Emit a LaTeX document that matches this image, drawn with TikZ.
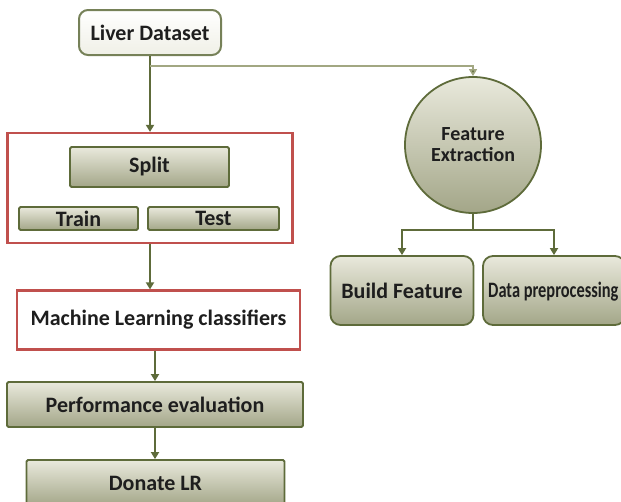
\documentclass[tikz,border=0pt]{standalone}
\usepackage{fontspec}
\setmainfont{Carlito}
\usetikzlibrary{arrows.meta}
\definecolor{olive}{HTML}{5E6B3A}
\definecolor{olivelight}{HTML}{A2A782}
\definecolor{boxtop}{HTML}{E9E9DC}
\definecolor{boxbot}{HTML}{A3A688}
\definecolor{framered}{HTML}{C0504D}
\definecolor{ink}{HTML}{1E1E1E}
\tikzset{
  lbl/.style={font=\bfseries\fontsize{22}{25}\selectfont, text=ink},
  greenbox/.style={draw=olive, line width=1.8pt, top color=boxtop, bottom color=boxbot,
    inner sep=0pt, rounded corners=1.5pt, lbl},
  roundbox/.style={greenbox, rounded corners=10pt},
  redframe/.style={draw=framered, line width=2.2pt, fill=white, inner sep=0pt},
  startbox/.style={draw=olive!85, line width=2pt, top color=white, bottom color=boxtop!70,
    rounded corners=9pt, inner sep=0pt, lbl},
  arr/.style={draw=olive, line width=1.7pt, -{Triangle[width=8pt,length=7pt]}},
  arrlight/.style={draw=olivelight, line width=1.6pt, -{Triangle[width=8pt,length=7pt,fill=olive]}},
  plain/.style={draw=olive, line width=1.7pt}
}
\begin{document}
\begin{tikzpicture}[x=1pt,y=-1pt]
\useasboundingbox (0,0) rectangle (621,501);

% left column
\node[startbox, minimum width=142pt, minimum height=45pt] (ld) at (150,32.5) {Liver Dataset};
\node[redframe, minimum width=285pt, minimum height=110pt] (rb) at (150,188) {};
\node[greenbox, minimum width=159pt, minimum height=40pt] (sp) at (149.5,167) {Split};
\node[greenbox, minimum width=119pt, minimum height=23pt] (tr) at (78.5,218.5) {Train};
\node[greenbox, minimum width=131pt, minimum height=23pt] (te) at (213.5,218.5) {Test};
\node[redframe, minimum width=283pt, minimum height=59pt, lbl] (ml) at (158.5,320)
      {Machine Learning classifiers};
\node[greenbox, minimum width=296pt, minimum height=45pt] (pe) at (155,404.5) {Performance evaluation};
\node[greenbox, minimum width=258pt, minimum height=46pt] (dl) at (155.5,483) {Donate LR};

% right column
\node[circle, draw=olive, line width=1.8pt, top color=boxtop, bottom color=boxbot,
      minimum size=136pt, inner sep=0pt, align=center,
      font=\bfseries\fontsize{20}{21}\selectfont, text=ink] (fe) at (473,145) {Feature\\Extraction};
\node[roundbox, minimum width=143pt, minimum height=69pt] (bf) at (402,290.5) {Build Feature};
\node[roundbox, minimum width=142pt, minimum height=69pt] (dp) at (554,290.5) {};
\node[lbl, anchor=west, inner sep=0pt] (dpt) at (488,292)
      {\scalebox{0.745}[1]{Data preprocessing}};

% connectors
\coordinate (br) at (150,66);
\coordinate (fj) at (473,230);
\draw[arr] (ld.south) -- (rb.north);
\draw[arrlight] (br) -| (fe.north);
\draw[arr] (rb.south) -- (rb.south |- ml.north);
\draw[arr] (pe.north |- ml.south) -- (pe.north);
\draw[arr] (pe.south) -- (pe.south |- dl.north);
\draw[plain] (fe.south) -- (fj);
\draw[arr] (fj) -| (bf.north);
\draw[arr] (fj) -| (dp.north);
\end{tikzpicture}
\end{document}
